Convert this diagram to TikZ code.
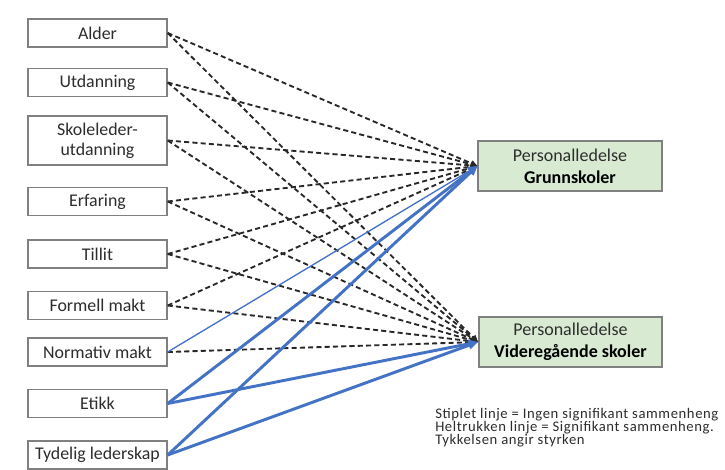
\documentclass[tikz,border=0pt]{standalone}
\usepackage{fontspec}
\setmainfont{Carlito}
\usetikzlibrary{arrows.meta}
\definecolor{boxline}{RGB}{128,128,128}
\definecolor{outfill}{RGB}{217,234,211}
\definecolor{sigblue}{RGB}{68,114,196}
\definecolor{labeltext}{RGB}{45,45,45}
\definecolor{dashline}{RGB}{40,40,40}
\begin{document}
\begin{tikzpicture}[x=0.75pt,y=-0.75pt,
  factor/.style={draw=boxline, line width=1.3pt, fill=white,
    minimum width=104pt, minimum height=21pt, inner sep=1pt,
    align=center, text=labeltext, font=\fontsize{13.4}{15}\selectfont},
  outcome/.style={draw=boxline, line width=1.3pt, fill=outfill,
    minimum width=137.5pt, minimum height=37.5pt, inner sep=1pt,
    align=center, text=labeltext, font=\fontsize{13.5}{16.5}\selectfont},
  nonsig/.style={draw=dashline, line width=1.4pt,
    dash pattern=on 3.8pt off 2.4pt,
    -{Triangle[length=5pt,width=4.5pt]}},
  sig/.style={draw=sigblue, -{Triangle[length=7pt,width=6pt]}},
  weaksig/.style={sig, line width=1pt},
  strongsig/.style={sig, line width=2.2pt},
  keytext/.style={align=left, inner sep=0pt, text=labeltext,
    font=\fontsize{11}{9.6}\selectfont\addfontfeature{LetterSpace=4}}
]
\useasboundingbox[fill=white] (0,0) rectangle (725,470);

% explanatory factors
\node[factor] (alder)   at (97.5,33)    {Alder};
\node[factor] (utd)     at (97.5,82.5)  {Utdanning};
\node[factor, minimum height=36.75pt] (skole) at (97.5,140.5) {Skoleleder-\\utdanning};
\node[factor] (erf)     at (97.5,201.5) {Erfaring};
\node[factor] (tillit)  at (97.5,254)   {Tillit};
\node[factor] (formell) at (97.5,305.5) {Formell makt};
\node[factor] (norm)    at (97.5,352)   {Normativ makt};
\node[factor] (etikk)   at (97.5,403.5) {Etikk};
\node[factor] (tydelig) at (97.5,455)   {Tydelig lederskap};

% outcomes
\node[outcome] (grunn) at (570,166) {Personalledelse\\\textbf{\color{black}Grunnskoler}};
\node[outcome] (vgs)   at (570.5,342) {Personalledelse\\\textbf{\color{black}Videregående skoler}};

% no significant relation
\foreach \f in {alder,utd,skole,erf,tillit,formell}{
  \draw[nonsig] (\f.east) -- (grunn.west);
  \draw[nonsig] (\f.east) -- (vgs.west);
}
\draw[nonsig] (norm.east) -- (vgs.west);

% significant relations, width shows strength
\draw[weaksig]   (norm.east)    -- (grunn.west);
\draw[strongsig] (etikk.east)   -- (grunn.west);
\draw[strongsig] (tydelig.east) -- (grunn.west);
\draw[strongsig] (etikk.east)   -- (vgs.west);
\draw[strongsig] (tydelig.east) -- (vgs.west);

% key
\node[keytext, anchor=north west] (key) at (435,408)
  {Stiplet linje = Ingen signifikant sammenheng\\
   Heltrukken linje = Signifikant sammenheng.\\
   Tykkelsen angir styrken};
\end{tikzpicture}
\end{document}
